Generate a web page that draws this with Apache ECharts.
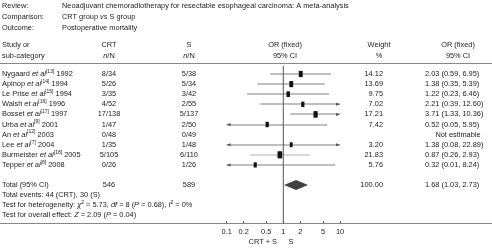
<!DOCTYPE html>
<html>
<head>
<meta charset="utf-8">
<script src="https://cdn.jsdelivr.net/npm/echarts@6/dist/echarts.min.js"></script>
<style>
html, body { margin: 0; padding: 0; background: #fff; }
#main { width: 492px; height: 248px; }
</style>
</head>
<body>
<div id="main"></div>
<script>
// studies (rows top to bottom)
var studyNames = ['Nygaard', 'Apinop', 'Le Prise', 'Walsh', 'Bosset', 'Urba', 'An', 'Lee', 'Burmeister', 'Tepper'];
var studyRefs = ['13', '14', '15', '16', '17', '9', '12', '7', '18', '8'];
var studyYears = ['1992', '1994', '1994', '1996', '1997', '2001', '2003', '2004', '2005', '2008'];
var crtCounts = ['8/34', '5/26', '3/35', '4/52', '17/138', '1/47', '0/48', '1/35', '5/105', '0/26'];
var sCounts = ['5/38', '5/34', '3/42', '2/55', '5/137', '2/50', '0/49', '1/48', '6/110', '1/26'];
var orValues = [2.03, 1.38, 1.22, 2.21, 3.71, 0.52, null, 1.38, 0.87, 0.32];
var ciLow = [0.59, 0.35, 0.23, 0.39, 1.33, 0.05, null, 0.08, 0.26, 0.01];
var ciHigh = [6.95, 5.39, 6.46, 12.60, 10.36, 5.95, null, 22.89, 2.93, 8.24];
var weights = [14.12, 13.69, 9.75, 7.02, 17.21, 7.42, null, 3.20, 21.83, 5.76];
// pooled result
var totalOr = [1.68, 1.03, 2.73];
var totalCounts = ['546', '589'];
var totalWeight = '100.00';
var axisTicks = [0.1, 0.2, 0.5, 1, 2, 5, 10];

var FONT = 'Liberation Sans';
var FS = 7.4;
var TXT = '#222';
var AX_MIN = 0.1, AX_MAX = 10;

// column positions
var COL = { study: 2, crt: 109, s: 189, weight: 383, orText: 425, orMid: 458 };

var rich = {
  i: { fontStyle: 'italic', fontSize: FS, fontFamily: FONT, fill: TXT, lineHeight: 10 },
  sup: { fontSize: 5, fontFamily: FONT, fill: TXT, lineHeight: 5, verticalAlign: 'top' },
  n: { fontSize: FS, fontFamily: FONT, fill: TXT, lineHeight: 10 }
};

function txt(x, y, s, align) {
  return {
    type: 'text',
    style: {
      x: x, y: y, text: s, fill: TXT,
      fontSize: FS, fontFamily: FONT,
      align: align || 'left', verticalAlign: 'middle',
      rich: rich
    }
  };
}

function fix(v) { return v.toFixed(2); }

function studyLabel(i) {
  return '{n|' + studyNames[i] + ' }{i|et al}{sup|[' + studyRefs[i] + ']}{n| ' + studyYears[i] + '}';
}

function renderStudy(params, api) {
  var i = params.dataIndex;
  var row = api.value(1);
  var y = api.coord([1, row])[1];
  var kids = [];
  kids.push(txt(COL.study, y, studyLabel(i), 'left'));
  kids.push(txt(COL.crt, y, crtCounts[i], 'center'));
  kids.push(txt(COL.s, y, sCounts[i], 'center'));
  if (orValues[i] == null) {
    kids.push(txt(COL.orMid, y, 'Not estimable', 'center'));
    return { type: 'group', children: kids };
  }
  kids.push(txt(COL.weight, y, fix(weights[i]), 'right'));
  kids.push(txt(COL.orText, y, fix(orValues[i]) + ' (' + fix(ciLow[i]) + ', ' + fix(ciHigh[i]) + ')', 'left'));

  var lo = Math.max(ciLow[i], AX_MIN), hi = Math.min(ciHigh[i], AX_MAX);
  var x0 = api.coord([lo, row])[0];
  var x1 = api.coord([hi, row])[0];
  var xc = api.coord([orValues[i], row])[0];
  var lineCol = i === 8 ? '#b0b0b0' : '#808080';
  // CI whisker
  kids.push({ type: 'rect', shape: { x: x0, y: Math.round(y) - 0.5, width: x1 - x0, height: 1 }, style: { fill: lineCol } });
  if (ciLow[i] < AX_MIN) {
    kids.push({ type: 'polygon', shape: { points: [[x0, y], [x0 + 4, y - 1.5], [x0 + 4, y + 1.5]] }, style: { fill: '#555' } });
  }
  if (ciHigh[i] > AX_MAX) {
    kids.push({ type: 'polygon', shape: { points: [[x1, y], [x1 - 4, y - 1.5], [x1 - 4, y + 1.5]] }, style: { fill: '#555' } });
  }
  var w = 2.5 + weights[i] * 0.1, h = 4.5 + weights[i] * 0.12;
  kids.push({ type: 'rect', shape: { x: xc - w / 2, y: y - h / 2, width: w, height: h }, style: { fill: '#111' } });
  return { type: 'group', children: kids };
}

function renderTotal(params, api) {
  var row = api.value(1);
  var y = api.coord([1, row])[1];
  var xl = api.coord([totalOr[1], row])[0];
  var xm = api.coord([totalOr[0], row])[0];
  var xr = api.coord([totalOr[2], row])[0];
  var kids = [
    { type: 'polygon', shape: { points: [[xl, y], [xm, y - 5], [xr, y], [xm, y + 5]] }, style: { fill: '#404040' } },
    txt(COL.study, y, 'Total (95% CI)', 'left'),
    txt(COL.crt, y, totalCounts[0], 'center'),
    txt(COL.s, y, totalCounts[1], 'center'),
    txt(COL.weight, y, totalWeight, 'right'),
    txt(COL.orText, y, fix(totalOr[0]) + ' (' + fix(totalOr[1]) + ', ' + fix(totalOr[2]) + ')', 'left'),
    txt(COL.study, api.coord([1, row + 1])[1], 'Total events: 44 (CRT), 30 (S)', 'left'),
    txt(COL.study, api.coord([1, row + 2])[1], 'Test for heterogeneity: {i|χ}{sup|2}{n| = 5.73, }{i|df}{n| = 8 (}{i|P}{n| = 0.68), }{i|I}{sup|2}{n| = 0%}', 'left'),
    txt(COL.study, api.coord([1, row + 3])[1], 'Test for overall effect: {i|Z}{n| = 2.09 (}{i|P}{n| = 0.04)}', 'left')
  ];
  return { type: 'group', children: kids };
}

var studyData = [];
for (var i = 0; i < studyNames.length; i++) {
  studyData.push([orValues[i] == null ? 1 : orValues[i], i]);
}

function hdr(x, y, s, align) {
  return { type: 'text', x: x, y: y, style: { text: s, fontSize: FS, fontFamily: FONT, fill: TXT, align: align, verticalAlign: 'middle', rich: rich } };
}

var chart = echarts.init(document.getElementById('main'));
chart.setOption({
  animation: false,
  grid: { left: 226.6, right: 152, top: 63.9, bottom: 24.5 },
  xAxis: {
    type: 'log', logBase: 10, min: AX_MIN, max: AX_MAX,
    axisLine: { show: false, onZero: false },
    splitLine: { show: false },
    axisTick: { show: true, inside: true, length: 2.5, customValues: axisTicks, lineStyle: { color: '#666' } },
    axisLabel: { customValues: axisTicks, fontSize: FS, fontFamily: FONT, color: TXT, margin: 5 }
  },
  yAxis: { type: 'value', min: -1, max: 14.8, inverse: true, show: false },
  graphic: [
    { type: 'line', shape: { x1: 0, y1: 63.5, x2: 492, y2: 63.5 }, style: { stroke: '#888', lineWidth: 1 } },
    { type: 'line', shape: { x1: 0, y1: 223.5, x2: 492, y2: 223.5 }, style: { stroke: '#888', lineWidth: 1 } },
    hdr(2, 5.5, 'Review:', 'left'),
    hdr(2, 16.5, 'Comparison:', 'left'),
    hdr(2, 27.5, 'Outcome:', 'left'),
    hdr(62, 5.5, 'Neoadjuvant chemoradiotherapy for resectable esophageal carcinoma: A meta-analysis', 'left'),
    hdr(62, 16.5, 'CRT group {i|vs} S group', 'left'),
    hdr(62, 27.5, 'Postoperative mortality', 'left'),
    hdr(2, 44.5, 'Study or', 'left'),
    hdr(2, 55.5, 'sub-category', 'left'),
    hdr(COL.crt, 44.5, 'CRT', 'center'),
    hdr(COL.crt, 55.5, '{i|n}/N', 'center'),
    hdr(COL.s, 44.5, 'S', 'center'),
    hdr(COL.s, 55.5, '{i|n}/N', 'center'),
    hdr(285, 44.5, 'OR (fixed)', 'center'),
    hdr(285, 55.5, '95% CI', 'center'),
    hdr(379, 44.5, 'Weight', 'center'),
    hdr(379, 55.5, '%', 'center'),
    hdr(COL.orMid, 44.5, 'OR (fixed)', 'center'),
    hdr(COL.orMid, 55.5, '95% CI', 'center'),
    hdr(277, 241.5, 'CRT + S', 'right'),
    hdr(291, 241.5, 'S', 'center')
  ],
  series: [
    {
      type: 'line', data: [[1, -0.8], [1, 14.8]], symbol: 'none',
      lineStyle: { color: '#555', width: 1 }, silent: true
    },
    { type: 'custom', renderItem: renderStudy, data: studyData, clip: false, encode: { x: 0, y: 1 } },
    { type: 'custom', renderItem: renderTotal, data: [[totalOr[0], 11]], clip: false, encode: { x: 0, y: 1 } }
  ]
});
</script>
</body>
</html>
